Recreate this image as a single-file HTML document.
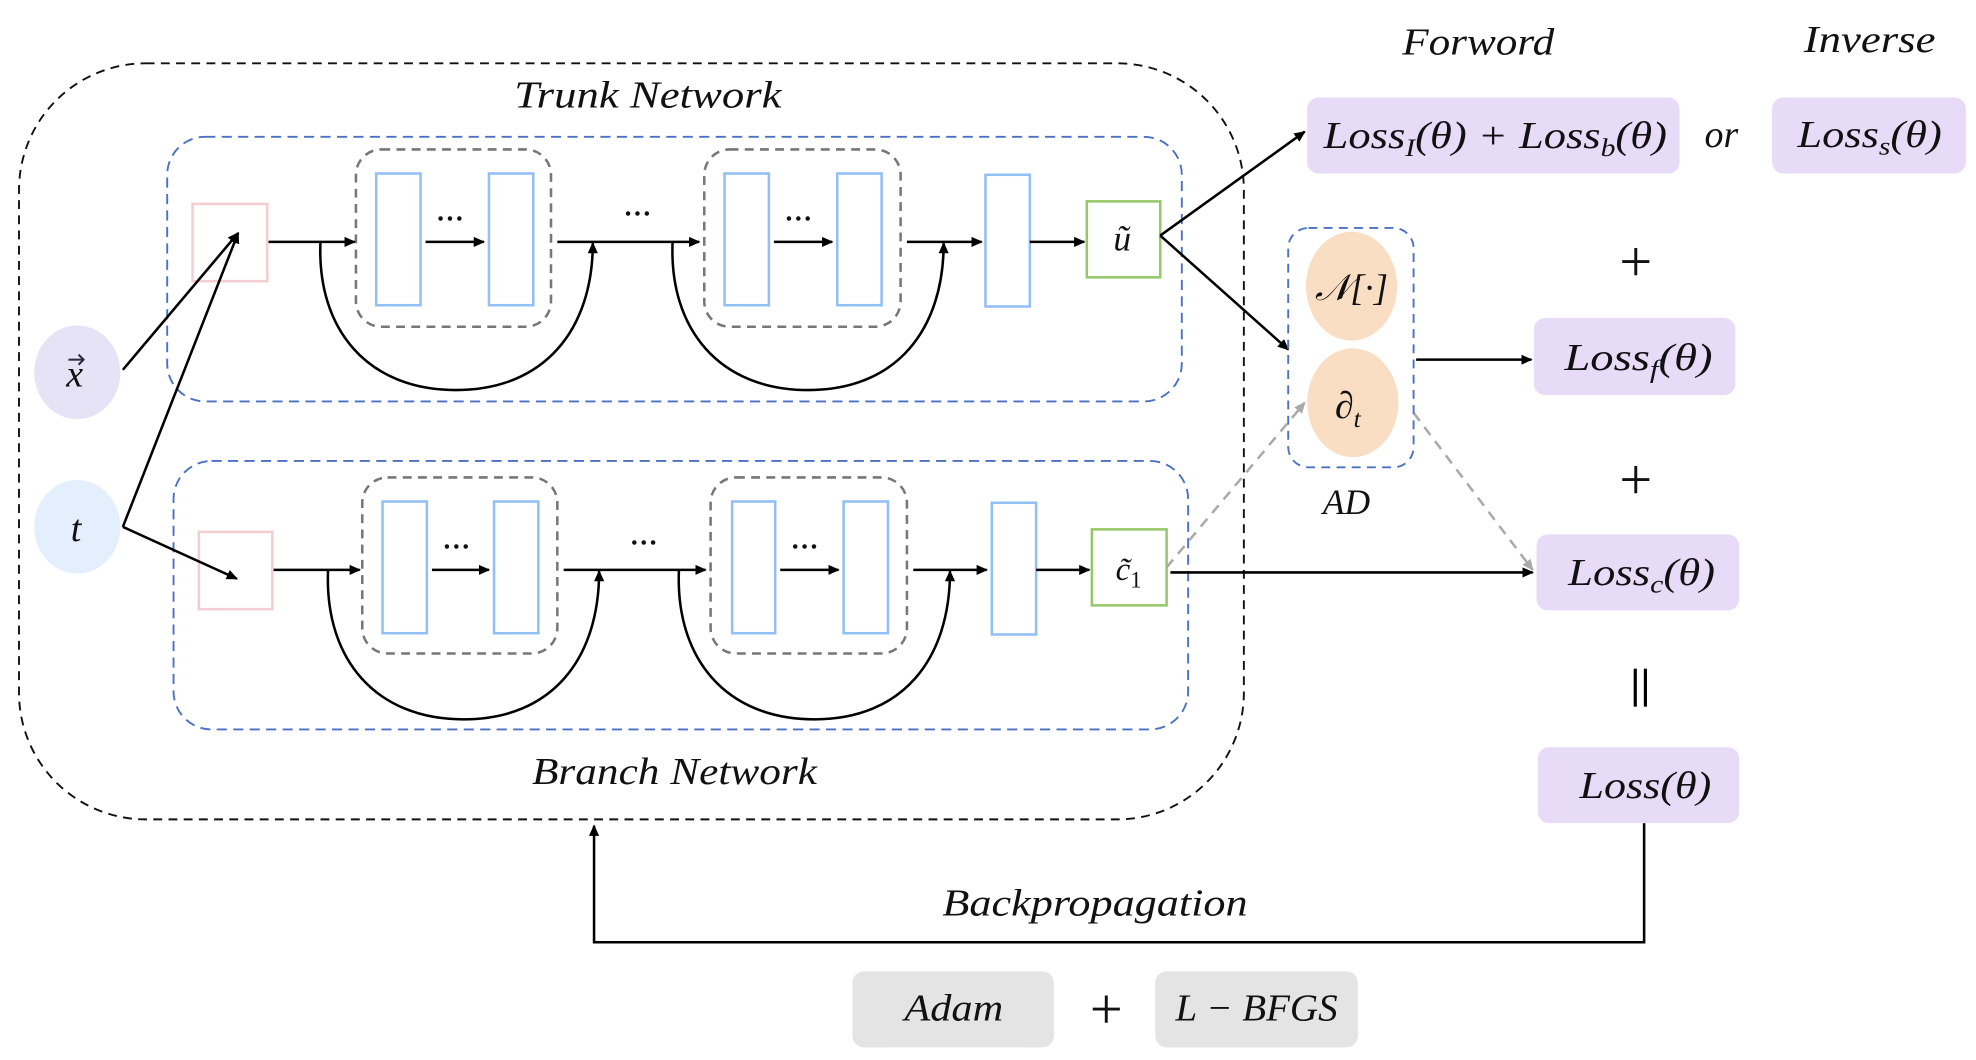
<!DOCTYPE html>
<html><head><meta charset="utf-8"><style>
html,body{margin:0;padding:0;background:#fff}
svg{display:block}
text{font-family:"Liberation Serif","DejaVu Serif",serif;font-style:italic;fill:#111}
</style></head><body>
<svg width="1976" height="1060" viewBox="0 0 1560 837" preserveAspectRatio="none" xmlns="http://www.w3.org/2000/svg">
<defs>
<marker id="a" markerWidth="10" markerHeight="10" refX="8" refY="5" orient="auto" markerUnits="userSpaceOnUse"><path d="M0,1 L9,5 L0,9 z" fill="#000"/></marker>
<marker id="g" markerWidth="10" markerHeight="10" refX="8" refY="5" orient="auto" markerUnits="userSpaceOnUse"><path d="M0,1 L9,5 L0,9 z" fill="#aaa"/></marker>
</defs>
<rect x="15" y="50" width="967" height="597" rx="100" fill="none" stroke="#111" stroke-width="1.5" stroke-dasharray="7,5"/>
<text x="406" y="85" font-size="30" textLength="211" lengthAdjust="spacingAndGlyphs">Trunk Network</text>
<text x="420" y="619" font-size="30" textLength="225" lengthAdjust="spacingAndGlyphs">Branch Network</text>
<rect x="132" y="108" width="801" height="209" rx="30" fill="none" stroke="#4a72c4" stroke-width="1.5" stroke-dasharray="8,5"/>
<rect x="152" y="161" width="59" height="61" fill="none" stroke="#f4cdd2" stroke-width="2"/>
<rect x="281" y="118" width="154" height="140" rx="20" fill="none" stroke="#777" stroke-width="2" stroke-dasharray="7,5"/>
<rect x="297" y="137" width="35" height="104" fill="none" stroke="#92c0f4" stroke-width="2"/>
<rect x="386" y="137" width="35" height="104" fill="none" stroke="#92c0f4" stroke-width="2"/>
<rect x="556" y="118" width="155" height="140" rx="20" fill="none" stroke="#777" stroke-width="2" stroke-dasharray="7,5"/>
<rect x="572" y="137" width="35" height="104" fill="none" stroke="#92c0f4" stroke-width="2"/>
<rect x="661" y="137" width="35" height="104" fill="none" stroke="#92c0f4" stroke-width="2"/>
<rect x="778" y="138" width="35" height="104" fill="none" stroke="#92c0f4" stroke-width="2"/>
<rect x="858" y="159" width="58" height="60" fill="none" stroke="#96c868" stroke-width="2"/>
<text x="886" y="198" font-size="28" text-anchor="middle">ũ</text>
<g stroke="#000" stroke-width="2" fill="none" marker-end="url(#a)">
<line x1="212" y1="191" x2="280" y2="191"/>
<line x1="336" y1="191" x2="382" y2="191"/>
<line x1="440" y1="191" x2="552" y2="191"/>
<line x1="611" y1="191" x2="657" y2="191"/>
<line x1="716" y1="191" x2="775" y2="191"/>
<line x1="813" y1="191" x2="856" y2="191"/>
<path d="M253,191 C250,260 290,308 360,308 C430,308 468,260 468,192"/>
<path d="M531,191 C528,260 568,308 638,308 C708,308 745,260 745,192"/>
</g>
<g font-size="22" text-anchor="middle" font-style="normal" font-weight="bold"><text x="356" y="174">…</text><text x="504" y="170">…</text><text x="631" y="174">…</text></g>
<rect x="137" y="364" width="801" height="212" rx="30" fill="none" stroke="#4a72c4" stroke-width="1.5" stroke-dasharray="8,5"/>
<rect x="157" y="420" width="58" height="61" fill="none" stroke="#f4cdd2" stroke-width="2"/>
<rect x="286" y="377" width="154" height="139" rx="20" fill="none" stroke="#777" stroke-width="2" stroke-dasharray="7,5"/>
<rect x="302" y="396" width="35" height="104" fill="none" stroke="#92c0f4" stroke-width="2"/>
<rect x="390" y="396" width="35" height="104" fill="none" stroke="#92c0f4" stroke-width="2"/>
<rect x="561" y="377" width="155" height="139" rx="20" fill="none" stroke="#777" stroke-width="2" stroke-dasharray="7,5"/>
<rect x="578" y="396" width="34" height="104" fill="none" stroke="#92c0f4" stroke-width="2"/>
<rect x="666" y="396" width="35" height="104" fill="none" stroke="#92c0f4" stroke-width="2"/>
<rect x="783" y="397" width="35" height="104" fill="none" stroke="#92c0f4" stroke-width="2"/>
<rect x="862" y="418" width="59" height="60" fill="none" stroke="#96c868" stroke-width="2"/>
<text x="891" y="458" font-size="26" text-anchor="middle">c̃<tspan font-size="18" font-style="normal" dy="6">1</tspan></text>
<g stroke="#000" stroke-width="2" fill="none" marker-end="url(#a)">
<line x1="216" y1="450" x2="284" y2="450"/>
<line x1="341" y1="450" x2="386" y2="450"/>
<line x1="445" y1="450" x2="557" y2="450"/>
<line x1="616" y1="450" x2="662" y2="450"/>
<line x1="721" y1="450" x2="779" y2="450"/>
<line x1="818" y1="450" x2="860" y2="450"/>
<path d="M259,450 C256,520 296,568 366,568 C436,568 473,520 473,451"/>
<path d="M536,450 C533,520 573,568 643,568 C713,568 750,520 750,451"/>
</g>
<g font-size="22" text-anchor="middle" font-style="normal" font-weight="bold"><text x="361" y="433">…</text><text x="509" y="430">…</text><text x="636" y="433">…</text></g>
<ellipse cx="61" cy="294" rx="34" ry="37" fill="#e6e3f7"/>
<ellipse cx="61" cy="416" rx="34" ry="37" fill="#e3effd"/>
<text x="59" y="305" font-size="30" text-anchor="middle" fill="#2a2a40">x</text>
<g stroke="#2a2a40" stroke-width="1.6" fill="none"><line x1="54" y1="284" x2="66" y2="284"/><polyline points="62,280 66,284 62,288"/></g>
<text x="60" y="427" font-size="30" text-anchor="middle" fill="#2a2a40">t</text>
<g stroke="#000" stroke-width="2" fill="none" marker-end="url(#a)">
<line x1="97" y1="292" x2="188" y2="184"/>
<polyline points="97,416 188,184"/>
<line x1="97" y1="416" x2="187" y2="457"/>
<line x1="916" y1="186" x2="1030" y2="104"/>
<line x1="916" y1="186" x2="1017" y2="276"/>
<line x1="1118" y1="284" x2="1209" y2="284"/>
<line x1="924" y1="452" x2="1210" y2="452"/>
<polyline points="1298,650 1298,744 469,744 469,652"/>
</g>
<g stroke="#aaa" stroke-width="2" fill="none" stroke-dasharray="8,6" marker-end="url(#g)">
<line x1="921" y1="448" x2="1030" y2="318"/>
<line x1="1116" y1="326" x2="1210" y2="450"/>
</g>
<rect x="1017" y="180" width="99" height="189" rx="16" fill="none" stroke="#4a72c4" stroke-width="1.5" stroke-dasharray="7,5"/>
<ellipse cx="1067" cy="226" rx="36" ry="43" fill="#fadec4"/>
<ellipse cx="1068" cy="318" rx="36" ry="43" fill="#fadec4"/>
<text x="1067" y="237" font-size="29" text-anchor="middle">𝒩[·]</text>
<text x="1064" y="330" font-size="30" text-anchor="middle">∂<tspan font-size="20" dy="7">t</tspan></text>
<text x="1063" y="406" font-size="28" text-anchor="middle">AD</text>
<text x="1107" y="43" font-size="30" textLength="120" lengthAdjust="spacingAndGlyphs">Forword</text>
<text x="1424" y="41" font-size="30" textLength="104" lengthAdjust="spacingAndGlyphs">Inverse</text>
<rect x="1032" y="77" width="294" height="60" rx="9" fill="#e8dbf8"/>
<text x="1045" y="117" font-size="30" textLength="271" lengthAdjust="spacingAndGlyphs">Loss<tspan font-size="20" dy="6">I</tspan><tspan dy="-6">(θ) + Loss</tspan><tspan font-size="20" dy="6">b</tspan><tspan dy="-6">(θ)</tspan></text>
<text x="1359" y="116" font-size="30" text-anchor="middle">or</text>
<rect x="1399" y="77" width="153" height="60" rx="9" fill="#e8dbf8"/>
<text x="1419" y="116" font-size="30" textLength="114" lengthAdjust="spacingAndGlyphs">Loss<tspan font-size="20" dy="6">s</tspan><tspan dy="-6">(θ)</tspan></text>
<text x="1291" y="222" font-size="46" text-anchor="middle" font-style="normal">+</text>
<rect x="1211" y="251" width="159" height="61" rx="9" fill="#e8dbf8"/>
<text x="1235" y="292" font-size="30" textLength="117" lengthAdjust="spacingAndGlyphs">Loss<tspan font-size="20" dy="6">f</tspan><tspan dy="-6">(θ)</tspan></text>
<text x="1291" y="394" font-size="46" text-anchor="middle" font-style="normal">+</text>
<rect x="1213" y="422" width="160" height="60" rx="9" fill="#e8dbf8"/>
<text x="1238" y="462" font-size="30" textLength="116" lengthAdjust="spacingAndGlyphs">Loss<tspan font-size="20" dy="6">c</tspan><tspan dy="-6">(θ)</tspan></text>
<g stroke="#000" stroke-width="2.5"><line x1="1291" y1="528" x2="1291" y2="558"/><line x1="1299" y1="528" x2="1299" y2="558"/></g>
<rect x="1214" y="590" width="159" height="60" rx="9" fill="#e8dbf8"/>
<text x="1247" y="630" font-size="30" textLength="104" lengthAdjust="spacingAndGlyphs">Loss(θ)</text>
<text x="744" y="723" font-size="30" textLength="241" lengthAdjust="spacingAndGlyphs">Backpropagation</text>
<rect x="673" y="767" width="159" height="60" rx="9" fill="#e4e4e4"/>
<text x="714" y="806" font-size="30" textLength="78" lengthAdjust="spacingAndGlyphs">Adam</text>
<text x="873" y="812" font-size="46" text-anchor="middle" font-style="normal">+</text>
<rect x="912" y="767" width="160" height="60" rx="9" fill="#e4e4e4"/>
<text x="928" y="806" font-size="30" textLength="128" lengthAdjust="spacingAndGlyphs">L − BFGS</text>
</svg>
</body></html>
